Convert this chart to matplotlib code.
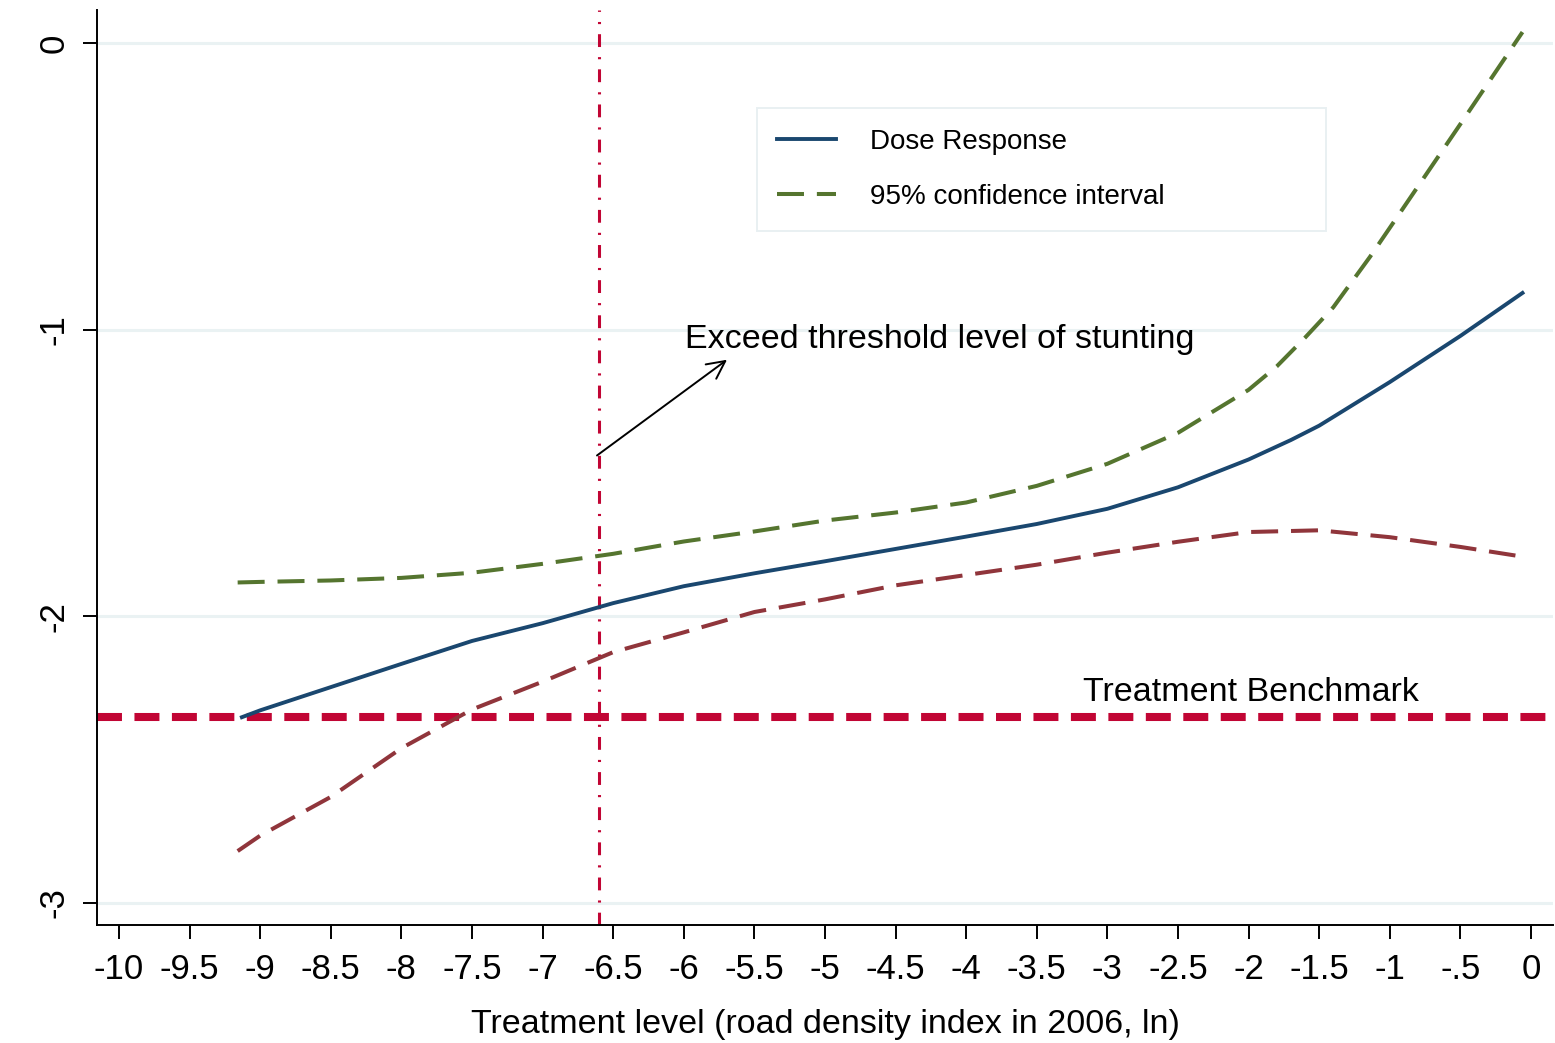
import matplotlib
matplotlib.use("Agg")
import matplotlib.pyplot as plt
from matplotlib import font_manager
from matplotlib.lines import Line2D

# fonts: narrow Arial-like if available
names = {f.name for f in font_manager.fontManager.ttflist}
narrow = "Liberation Sans Narrow" if "Liberation Sans Narrow" in names else "Liberation Sans"
plt.rcParams["font.family"] = ["Liberation Sans", "DejaVu Sans"]

# Dose response estimate
dose_x = [-9.13, -9, -8.5, -8, -7.5, -7, -6.5, -6, -5.5, -5, -4.5, -4, -3.5,
          -3, -2.5, -2, -1.7, -1.5, -1, -0.5, -0.06]
dose_y = [-2.352, -2.328, -2.247, -2.166, -2.086, -2.024, -1.954, -1.895, -1.850,
          -1.808, -1.765, -1.722, -1.678, -1.625, -1.550, -1.453, -1.385, -1.335,
          -1.183, -1.022, -0.872]

# upper 95% bound
upper_x = [-9.16, -9, -8.5, -8, -7.5, -7, -6.5, -6, -5.5, -5, -4.5, -4, -3.5,
           -3, -2.5, -2, -1.8, -1.6, -1.4, -1.14, -1, -0.5, -0.06]
upper_y = [-1.882, -1.880, -1.875, -1.866, -1.848, -1.817, -1.782, -1.739, -1.704,
           -1.666, -1.638, -1.603, -1.545, -1.468, -1.360, -1.210, -1.128, -1.028,
           -0.922, -0.746, -0.645, -0.283, 0.038]

# lower 95% bound
lower_x = [-9.16, -9, -8.5, -8, -7.5, -7, -6.5, -6, -5.5, -5, -4.5, -4, -3.5,
           -3, -2.5, -2, -1.5, -1, -0.5, -0.11]
lower_y = [-2.819, -2.765, -2.630, -2.460, -2.325, -2.228, -2.125, -2.056, -1.985,
           -1.941, -1.892, -1.856, -1.820, -1.778, -1.740, -1.706, -1.700, -1.724,
           -1.758, -1.788]

benchmark = -2.352
threshold_x = -6.6

xticks = [-10, -9.5, -9, -8.5, -8, -7.5, -7, -6.5, -6, -5.5, -5, -4.5, -4, -3.5,
          -3, -2.5, -2, -1.5, -1, -0.5, 0]
xtick_labels = ["-10", "-9.5", "-9", "-8.5", "-8", "-7.5", "-7", "-6.5", "-6", "-5.5",
                "-5", "-4.5", "-4", "-3.5", "-3", "-2.5", "-2", "-1.5", "-1", "-.5", "0"]
yticks = [0, -1, -2, -3]
ytick_labels = ["0", "-1", "-2", "-3"]

navy = "#1a476f"
green = "#55752f"
maroon = "#90353b"
cranberry = "#c10534"
grid = "#eaf2f3"

fig = plt.figure(figsize=(15.55, 10.43), dpi=100)
ax = fig.add_axes([0.0624, 0.1131, 0.9363, 0.8773])

for y in yticks:
    ax.axhline(y, color=grid, lw=2.2, zorder=0)

ax.plot(dose_x, dose_y, color=navy, lw=2.8, zorder=4)
ax.plot(upper_x, upper_y, color=green, lw=2.9, dashes=(6.7, 3.2), zorder=3)
ax.plot(lower_x, lower_y, color=maroon, lw=2.9, dashes=(6.7, 3.2), zorder=3)

ax.axhline(benchmark, color=cranberry, lw=5.8, dashes=(3.1, 1.55), zorder=2)
ax.axvline(threshold_x, color=cranberry, lw=2.2, dashes=(4.2, 3.3, 0.7, 3.3), zorder=2)

ax.annotate("", xy=(-5.694, -1.105), xytext=(-6.615, -1.439),
            arrowprops=dict(arrowstyle="->", color="black", lw=1.4,
                            mutation_scale=32, shrinkA=0, shrinkB=0))
ax.text(-5.99, -1.063, "Exceed threshold level of stunting", fontsize=24.5,
        ha="left", va="baseline")
ax.text(-3.173, -2.296, "Treatment Benchmark", fontsize=24.5,
        ha="left", va="baseline")

ax.set_xlim(-10.156, 0.156)
ax.set_ylim(-3.077, 0.115)
ax.set_xticks(xticks)
ax.set_xticklabels(xtick_labels, fontfamily=narrow, fontsize=25)
ax.set_yticks(yticks)
ax.set_yticklabels(ytick_labels, fontfamily=narrow, fontsize=25,
                   rotation=90, va="center")
ax.tick_params(axis="both", length=10, width=1.4, color="black", direction="out")
ax.tick_params(axis="x", pad=10)
ax.tick_params(axis="y", pad=9)
for s in ["top", "right"]:
    ax.spines[s].set_visible(False)
for s in ["left", "bottom"]:
    ax.spines[s].set_linewidth(1.4)

ax.set_xlabel("Treatment level (road density index in 2006, ln)",
              fontfamily=narrow, fontsize=24.5, labelpad=17)

handles = [Line2D([], [], color=navy, lw=2.8),
           Line2D([], [], color=green, lw=2.9, dashes=(6.7, 3.2))]
leg = ax.legend(handles, ["Dose Response", "95% confidence interval"],
                loc="upper left", bbox_to_anchor=(0.453, 0.762, 0.391, 0.131),
                mode="expand", fontsize=20, frameon=True, fancybox=False,
                edgecolor="#e3ecef", handlelength=2.1, handletextpad=1.25,
                labelspacing=1.05, borderpad=0.75, borderaxespad=0)
leg.get_frame().set_linewidth(1.4)

fig.savefig("out.png", dpi=100, facecolor="white")
